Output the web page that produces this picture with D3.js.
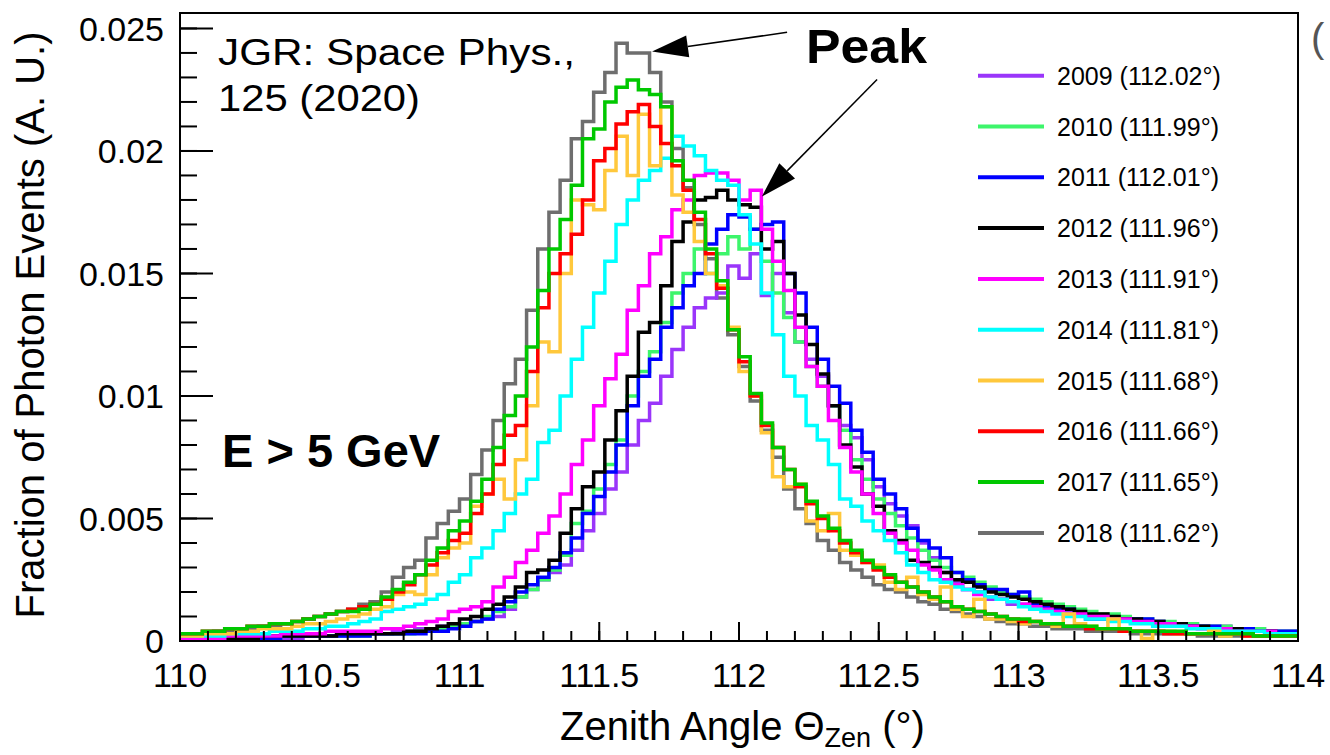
<!DOCTYPE html>
<html>
<head>
<meta charset="utf-8">
<script src="https://cdn.jsdelivr.net/npm/d3@7"></script>
<style>
body { margin: 0; background: #fff; }
text { font-family: "Liberation Sans", Arial, Helvetica, sans-serif; fill: #000; }
</style>
</head>
<body>
<svg id="chart" width="1330" height="755"></svg>
<script>
// histogram binning (deg) and value unit (values below are in 1e-4)
var binStart = 110, binWidth = 0.04;
var unit = 1e-4;

var years = ["2009", "2010", "2011", "2012", "2013", "2014", "2015", "2016", "2017", "2018"];
var peakAngles = ["112.02", "111.99", "112.01", "111.96", "111.91", "111.81", "111.68", "111.66", "111.65", "111.62"];
var colors = ["#9a35fa", "#3df56b", "#0000ff", "#000000", "#ff00ff", "#00ffff", "#ffc83c", "#ff0000", "#00c800", "#6e6e6e"];

var h2009 = [1,1,1,1,1,1,1,1,1,1, 1,2,2,2,2,2,3,3,3,4, 4,5,5,6,6,7,8,9,10,13,
  18,21,25,28,31,37,45,52,62,69, 80,90,97,108,119,128,136,140,142,153,
  148,158,141,150,134,122,115,108,96,88, 83,74,63,56,51,47,40,34,28,24,
  21,20,17,17,15,15,14,13,13,12, 11,11,10,10,9,9,8,8,7,7, 7,6,6,6,5,5,5,4,4,4];
var h2010 = [1,1,1,1,1,1,1,1,1,2, 2,2,2,2,2,2,2,3,3,3, 3,4,4,5,6,7,8,10,12,14,
  18,21,25,29,35,48,53,62,72,82, 100,110,118,130,142,150,160,150,158,165,
  160,168,155,142,132,122,112,104,96,86, 74,66,58,52,47,42,37,33,30,28,
  26,24,22,20,19,18,17,16,15,14, 13,12,11,11,10,9,9,8,8,7, 7,6,6,6,5,5,5,4,4,4];
var h2011 = [1,1,1,1,1,1,1,1,1,2, 2,2,2,2,2,2,2,3,3,3, 3,3,4,4,5,6,8,9,13,16,
  20,23,26,30,36,42,52,59,69,80, 96,108,115,128,136,145,150,162,168,174,
  173,168,170,171,150,142,128,115,104,97, 86,77,66,60,54,46,41,38,34,28,
  25,23,21,21,19,20,15,14,13,13, 11,9,9,9,9,9,9,8,7,7, 6,6,6,5,5,5,4,4,4,4];
var h2012 = [1,1,1,1,1,1,1,2,2,2, 2,2,2,2,3,3,3,3,3,3, 4,4,5,6,7,9,10,13,15,18,
  22,28,29,33,44,54,63,69,82,94, 108,126,130,145,163,171,180,181,184,180,
  178,177,160,163,150,133,121,109,96,80, 71,60,55,45,41,33,32,30,28,25,
  24,22,20,19,18,17,16,15,14,13, 12,11,11,10,9,9,8,8,7,7, 6,6,5,5,5,4,4,4,3,3];
var h2013 = [1,1,1,1,2,2,2,2,2,3, 3,3,3,4,4,4,4,4,5,5, 6,7,8,9,12,13,14,16,22,26,
  32,37,44,51,60,72,82,96,107,117, 135,145,158,165,176,180,190,191,191,188,
  180,184,168,155,143,128,112,104,90,79, 69,60,52,44,40,37,31,29,25,23,
  21,19,18,17,16,15,14,13,12,11, 11,10,10,9,9,8,8,7,7,6, 6,5,5,5,4,4,4,4,3,3];
var h2014 = [2,2,2,2,3,3,3,3,4,4, 4,5,5,6,6,7,8,9,12,13, 14,15,17,19,24,27,34,38,45,52,
  60,66,81,86,100,115,128,142,155,170, 180,188,192,197,206,202,198,192,188,186,
  174,162,142,125,108,100,88,82,72,58, 55,49,45,41,36,31,28,25,24,22,
  21,20,18,17,16,14,13,12,11,10, 10,9,9,8,8,7,7,6,6,6, 5,5,5,4,4,4,4,3,3,3];
var h2015 = [2,2,3,3,3,4,4,5,5,5, 6,7,7,8,9,10,11,13,14,19, 20,19,27,34,38,40,55,60,66,58,
  74,96,122,118,150,180,178,176,192,206, 190,215,194,218,182,175,163,150,145,128,
  110,100,85,67,63,64,49,45,52,37, 35,32,31,24,21,26,19,17,22,13,
  10,17,9,9,8,7,8,7,6,11, 7,6,5,9,5,4,1,4,4,3, 3,3,4,2,3,2,2,2,2,2];
var h2016 = [3,3,4,4,5,5,6,6,7,7, 8,9,10,11,12,13,14,15,17,20, 23,27,31,36,41,44,52,60,72,84,
  88,110,136,150,158,166,180,196,201,211, 216,219,210,203,194,184,172,158,144,127,
  114,100,88,79,70,63,56,50,45,40, 36,32,29,26,24,22,20,18,16,14,
  13,12,11,10,9,8,8,7,7,6, 6,5,5,5,4,4,4,4,3,3, 3,3,3,3,3,2,2,2,2,2];
var h2017 = [3,3,4,4,5,5,6,6,7,7, 8,9,10,11,12,12,13,15,18,21, 24,27,33,38,45,49,57,66,79,92,
  100,120,143,160,172,186,205,209,220,226, 229,225,223,218,196,188,175,160,147,127,
  116,101,89,79,70,64,57,51,46,41, 37,33,30,27,24,22,20,18,16,14,
  13,12,11,10,9,9,8,7,7,6, 6,6,5,5,5,4,4,4,4,4, 3,3,3,3,3,3,2,2,2,2];
var h2018 = [2,3,3,4,4,5,5,6,6,7, 8,9,10,11,12,13,15,16,20,26, 30,33,42,48,53,58,68,78,90,105,
  115,135,160,175,188,205,212,224,232,244, 240,240,232,220,201,185,170,156,140,125,
  112,98,86,75,62,54,48,41,37,32, 29,26,23,21,20,18,16,15,13,12,
  11,10,9,8,7,7,6,6,5,5, 5,4,4,4,4,3,3,3,3,3, 3,2,2,2,2,2,2,2,2,2];

var series = [h2009, h2010, h2011, h2012, h2013, h2014, h2015, h2016, h2017, h2018];
var drawOrder = [9, 0, 1, 2, 3, 4, 5, 6, 7, 8];

var xTicks = [110, 110.5, 111, 111.5, 112, 112.5, 113, 113.5, 114];
var xTickLabels = ["110", "110.5", "111", "111.5", "112", "112.5", "113", "113.5", "114"];
var yTicks = [0, 0.005, 0.01, 0.015, 0.02, 0.025];
var yTickLabels = ["0", "0.005", "0.01", "0.015", "0.02", "0.025"];

// annotation arrows in data coordinates: [tailX, tailY, tipX, tipY]
var peakArrows = [[112.172, 0.02484, 111.689, 0.02406], [112.494, 0.02292, 112.082, 0.01814]];

var svg = d3.select("#chart");
var plotL = 180, plotR = 1298, plotT = 13, plotB = 641;

var x = d3.scaleLinear().domain([110, 114]).range([plotL, plotR]);
var y = d3.scaleLinear().domain([0, 0.02563]).range([plotB, plotT]);

svg.append("defs").append("clipPath").attr("id", "plot")
  .append("rect").attr("x", plotL).attr("y", plotT)
  .attr("width", plotR - plotL).attr("height", plotB - plotT);

// histograms
var line = d3.line()
  .x(function(d) { return x(d[0]); })
  .y(function(d) { return y(d[1]); })
  .curve(d3.curveStepAfter);

var g = svg.append("g").attr("clip-path", "url(#plot)");
drawOrder.forEach(function(k) {
  var vals = series[k];
  var pts = vals.map(function(v, i) { return [binStart + i * binWidth, v * unit]; });
  pts.push([binStart + vals.length * binWidth, vals[vals.length - 1] * unit]);
  g.append("path")
    .attr("d", line(pts))
    .attr("fill", "none")
    .attr("stroke", colors[k])
    .attr("stroke-width", 3.5)
    .attr("stroke-linejoin", "miter");
});

// frame
svg.append("rect")
  .attr("x", plotL).attr("y", plotT)
  .attr("width", plotR - plotL).attr("height", plotB - plotT)
  .attr("fill", "none").attr("stroke", "#000").attr("stroke-width", 2);

// x axis ticks (inside, pointing up)
var xMinor = d3.range(110, 114.0001, 0.1);
svg.append("g").selectAll("line").data(xMinor).enter().append("line")
  .attr("x1", function(d) { return x(d); }).attr("x2", function(d) { return x(d); })
  .attr("y1", plotB).attr("y2", plotB - 10)
  .attr("stroke", "#000").attr("stroke-width", 2);
svg.append("g").selectAll("line").data(xTicks).enter().append("line")
  .attr("x1", function(d) { return x(d); }).attr("x2", function(d) { return x(d); })
  .attr("y1", plotB).attr("y2", plotB - 19)
  .attr("stroke", "#000").attr("stroke-width", 2);
svg.append("g").selectAll("text").data(xTicks).enter().append("text")
  .attr("x", function(d) { return x(d); })
  .attr("y", 687)
  .attr("text-anchor", "middle")
  .style("font-size", "34px")
  .text(function(d, i) { return xTickLabels[i]; });

// y axis ticks (inside, pointing right)
var yMinor = d3.range(0, 0.02501, 0.001);
svg.append("g").selectAll("line").data(yMinor).enter().append("line")
  .attr("x1", plotL).attr("x2", plotL + 17)
  .attr("y1", function(d) { return y(d); }).attr("y2", function(d) { return y(d); })
  .attr("stroke", "#000").attr("stroke-width", 2);
svg.append("g").selectAll("line").data(yTicks).enter().append("line")
  .attr("x1", plotL).attr("x2", plotL + 33)
  .attr("y1", function(d) { return y(d); }).attr("y2", function(d) { return y(d); })
  .attr("stroke", "#000").attr("stroke-width", 2);
svg.append("g").selectAll("text").data(yTicks).enter().append("text")
  .attr("x", 164)
  .attr("y", function(d) { return y(d); })
  .attr("dy", "0.36em")
  .attr("text-anchor", "end")
  .style("font-size", "34px")
  .text(function(d, i) { return yTickLabels[i]; });

// axis titles
svg.append("text")
  .attr("transform", "translate(44,325) rotate(-90)")
  .attr("text-anchor", "middle")
  .style("font-size", "40px")
  .text("Fraction of Photon Events (A. U.)");

var xt = svg.append("text").attr("x", 560).attr("y", 740).style("font-size", "40px");
xt.append("tspan").text("Zenith Angle \u0398");
xt.append("tspan").attr("dy", 7).style("font-size", "27px").text("Zen");
xt.append("tspan").attr("dy", -7).text(" (\u00b0)");

// legend
var leg = svg.append("g");
years.forEach(function(yr, i) {
  var yy = 75.7 + i * 50.8;
  leg.append("line")
    .attr("x1", 978).attr("x2", 1044).attr("y1", yy).attr("y2", yy)
    .attr("stroke", colors[i]).attr("stroke-width", 4);
  leg.append("text")
    .attr("x", 1057).attr("y", yy + 9)
    .style("font-size", "25px")
    .text(yr + " (" + peakAngles[i] + "\u00b0)");
});

// annotations
svg.append("text").attr("x", 218).attr("y", 65)
  .attr("textLength", 357).attr("lengthAdjust", "spacingAndGlyphs")
  .style("font-size", "37px").text("JGR: Space Phys.,");
svg.append("text").attr("x", 218).attr("y", 111)
  .attr("textLength", 202).attr("lengthAdjust", "spacingAndGlyphs")
  .style("font-size", "37px").text("125 (2020)");
svg.append("text").attr("x", 222).attr("y", 467)
  .style("font-size", "47px").style("font-weight", "bold").text("E > 5 GeV");
svg.append("text").attr("x", 806).attr("y", 63)
  .attr("textLength", 121).attr("lengthAdjust", "spacingAndGlyphs")
  .style("font-size", "48px").style("font-weight", "bold").text("Peak");

peakArrows.forEach(function(a) {
  var x0 = x(a[0]), y0 = y(a[1]), x1 = x(a[2]), y1 = y(a[3]);
  var ang = Math.atan2(y1 - y0, x1 - x0);
  var len = 36, hw = 11;
  var bx = x1 - len * Math.cos(ang), by = y1 - len * Math.sin(ang);
  svg.append("line")
    .attr("x1", x0).attr("y1", y0).attr("x2", bx).attr("y2", by)
    .attr("stroke", "#000").attr("stroke-width", 1.5);
  var p = [[x1, y1],
           [bx + hw * Math.sin(ang), by - hw * Math.cos(ang)],
           [bx - hw * Math.sin(ang), by + hw * Math.cos(ang)]];
  svg.append("polygon").attr("points", p.map(function(q) { return q.join(","); }).join(" "))
    .attr("fill", "#000");
});

// edge of the neighbouring panel
svg.append("text").attr("x", 1311).attr("y", 52)
  .style("font-size", "40px").style("fill", "#555").text("(");
</script>
</body>
</html>
